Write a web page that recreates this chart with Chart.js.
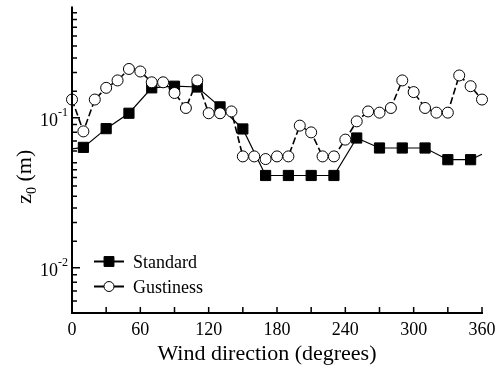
<!DOCTYPE html>
<html>
<head>
<meta charset="utf-8">
<style>
  html, body { margin: 0; padding: 0; background: #fff; }
  #wrap { width: 501px; height: 372px; }
</style>
<script src="https://cdn.jsdelivr.net/npm/chart.js@4.4.0/dist/chart.umd.min.js"></script>
</head>
<body>
<div id="wrap"><canvas id="chart" width="501" height="372"></canvas></div>
<script>
// data
const standardDir = [0, 10, 30, 50, 70, 90, 110, 130, 150, 170, 190, 210, 230, 250, 270, 290, 310, 330, 350, 360];
const standardZ0 = [0.062, 0.0634, 0.0845, 0.107, 0.158, 0.162, 0.160, 0.118, 0.0841, 0.0412, 0.0412, 0.0412, 0.0412, 0.0732, 0.0628, 0.0628, 0.0628, 0.0525, 0.0525, 0.057];
const gustDir = [0, 10, 20, 30, 40, 50, 60, 70, 80, 90, 100, 110, 120, 130, 140, 150, 160, 170, 180,
  190, 200, 210, 220, 230, 240, 250, 260, 270, 280, 290, 300, 310, 320, 330, 340, 350, 360];
const gustZ0 = [0.132, 0.081, 0.132, 0.158, 0.177, 0.211, 0.203, 0.172, 0.172, 0.146, 0.116, 0.177, 0.107, 0.107, 0.110,
  0.0552, 0.0552, 0.0530, 0.0552, 0.0552, 0.0885, 0.0798, 0.0552, 0.0552, 0.0714, 0.0945, 0.110, 0.108, 0.116,
  0.177, 0.148, 0.116, 0.108, 0.108, 0.191, 0.162, 0.132];

const seriesNames = ['Standard', 'Gustiness'];
const xTickLabels = [0, 60, 120, 180, 240, 300, 360];
const xTickMarks = [0, 30, 60, 90, 120, 150, 180, 210, 240, 270, 300, 330, 360];
const yTickLabels = [0.01, 0.1];
const yMinorMantissa = [1.5, 2, 2.5, 3, 3.5, 4, 4.5, 5, 6, 7, 8, 9];

const serif = "'Liberation Serif', 'Times New Roman', serif";

function toXY(xs, ys) {
  return xs.map((v, i) => ({ x: v, y: ys[i] }));
}

// tick marks point inward, labels with superscripts, custom legend
const axisDecor = {
  id: 'axisDecor',
  afterDraw(chart) {
    const ctx = chart.ctx;
    const a = chart.chartArea;
    const xs = chart.scales.x, ys = chart.scales.y;
    ctx.save();
    ctx.strokeStyle = '#000';
    ctx.fillStyle = '#000';

    // axis lines
    ctx.lineWidth = 2;
    ctx.beginPath();
    ctx.moveTo(a.left, a.top);
    ctx.lineTo(a.left, a.bottom);
    ctx.lineTo(a.right + 1, a.bottom);
    ctx.stroke();

    ctx.lineWidth = 1.5;
    ctx.beginPath();
    xTickMarks.forEach(v => {
      const px = xs.getPixelForValue(v);
      ctx.moveTo(px, a.bottom);
      ctx.lineTo(px, a.bottom - 6);
    });
    // y minor ticks
    [0.001, 0.01, 0.1].forEach(dec => {
      [1].concat(yMinorMantissa).forEach(m => {
        const v = dec * m;
        if (v < ys.min || v > ys.max) return;
        const py = ys.getPixelForValue(v);
        const len = yTickLabels.indexOf(v) >= 0 ? 8 : 5;
        ctx.moveTo(a.left, py);
        ctx.lineTo(a.left + len, py);
      });
    });
    ctx.stroke();

    // x labels
    ctx.font = '18px ' + serif;
    ctx.textAlign = 'center';
    ctx.textBaseline = 'alphabetic';
    xTickLabels.forEach(v => {
      ctx.fillText(String(v), xs.getPixelForValue(v), a.bottom + 22);
    });
    ctx.font = '22px ' + serif;
    ctx.fillText('Wind direction (degrees)', (a.left + a.right) / 2 - 10, a.bottom + 47);

    // y labels 10^-n
    yTickLabels.forEach(v => {
      const py = ys.getPixelForValue(v);
      const exp = String(Math.round(Math.log10(v)));
      ctx.font = '12px ' + serif;
      ctx.textAlign = 'right';
      const ew = ctx.measureText(exp).width;
      ctx.fillText(exp, a.left - 4, py - 2);
      ctx.font = '18px ' + serif;
      ctx.fillText('10', a.left - 4 - ew, py + 8);
    });

    // y title z0 (m)
    ctx.save();
    ctx.translate(31, (a.top + a.bottom) / 2 + 17);
    ctx.rotate(-Math.PI / 2);
    ctx.textAlign = 'left';
    ctx.font = '22px ' + serif;
    const zw = ctx.measureText('z').width;
    ctx.font = '14px ' + serif;
    const sw = ctx.measureText('0').width;
    const rest = ' (m)';
    ctx.font = '22px ' + serif;
    const rw = ctx.measureText(rest).width;
    const x0 = -(zw + sw + rw) / 2;
    ctx.fillText('z', x0, 0);
    ctx.font = '14px ' + serif;
    ctx.fillText('0', x0 + zw, 5);
    ctx.font = '22px ' + serif;
    ctx.fillText(rest, x0 + zw + sw, 0);
    ctx.restore();

    // legend
    const lx = a.left + 22, ly = a.top + 255;
    chart.data.datasets.forEach((ds, i) => {
      const y = ly + i * 25;
      ctx.lineWidth = 2;
      ctx.setLineDash([]);
      ctx.strokeStyle = '#000';
      ctx.beginPath();
      ctx.moveTo(lx, y);
      ctx.lineTo(lx + 30, y);
      ctx.stroke();
      ctx.lineWidth = 1;
      ctx.fillStyle = ds.pointBackgroundColor;
      ctx.beginPath();
      if (ds.pointStyle === 'circle') {
        ctx.arc(lx + 15, y, ds.legendRadius, 0, Math.PI * 2);
      } else {
        const s = ds.legendRadius * Math.SQRT1_2;
        ctx.rect(lx + 15 - s, y - s, 2 * s, 2 * s);
      }
      ctx.fill();
      ctx.stroke();
      ctx.fillStyle = '#000';
      ctx.font = '18px ' + serif;
      ctx.textAlign = 'left';
      ctx.fillText(ds.label, lx + 39, y + 6);
    });
    ctx.restore();
  }
};

new Chart(document.getElementById('chart'), {
  type: 'line',
  data: {
    datasets: [
      {
        label: seriesNames[0],
        data: toXY(standardDir, standardZ0),
        borderColor: '#000',
        borderWidth: 1.2,
        pointStyle: 'rect',
        pointRadius: standardDir.map(d => (d === 0 || d === 360) ? 0 : 7.2),
        legendRadius: 7,
        pointBackgroundColor: '#000',
        pointBorderColor: '#000',
        pointBorderWidth: 1,
        tension: 0,
        clip: false,
        order: 1
      },
      {
        label: seriesNames[1],
        data: toXY(gustDir, gustZ0),
        borderColor: '#000',
        borderWidth: 1.6,
        borderDash: [7, 3],
        pointStyle: 'circle',
        pointRadius: 5.5,
        legendRadius: 5,
        pointBackgroundColor: '#fff',
        pointBorderColor: '#000',
        pointBorderWidth: 1,
        tension: 0,
        clip: false,
        order: 0
      }
    ]
  },
  options: {
    responsive: false,
    animation: false,
    devicePixelRatio: 1,
    layout: { padding: { top: 6, right: 19, left: 0, bottom: 0 } },
    plugins: {
      legend: { display: false },
      tooltip: { enabled: false }
    },
    scales: {
      x: {
        type: 'linear',
        min: 0,
        max: 360,
        grid: { display: false },
        border: { display: false },
        ticks: { display: false },
        afterFit(s) { s.height = 59; }
      },
      y: {
        type: 'logarithmic',
        min: 0.005,
        max: 0.55,
        grid: { display: false },
        border: { display: false },
        ticks: { display: false },
        afterFit(s) { s.width = 72; }
      }
    }
  },
  plugins: [axisDecor]
});
</script>
</body>
</html>
